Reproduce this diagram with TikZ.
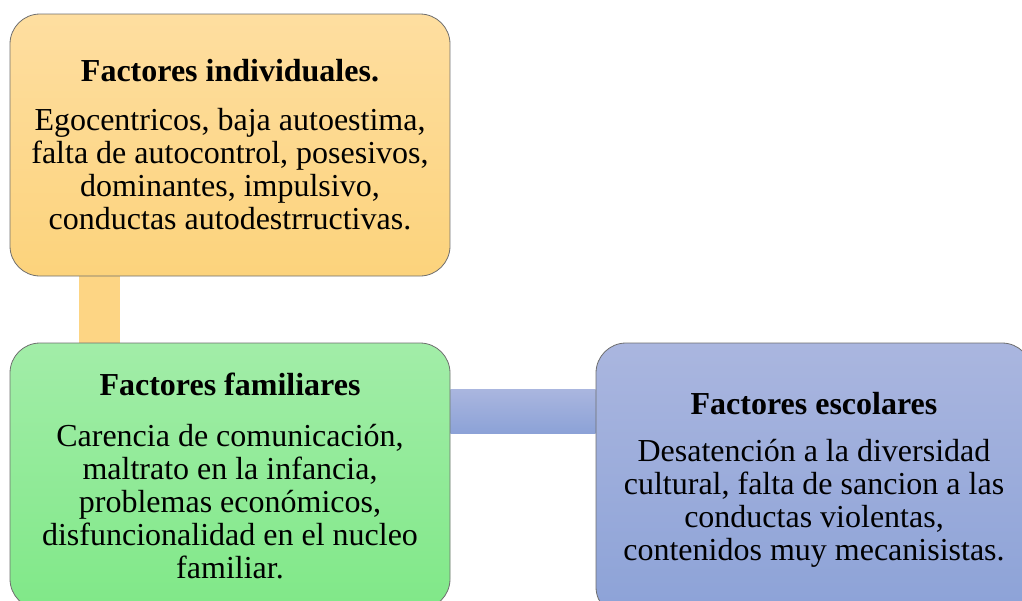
\documentclass[tikz,border=0pt]{standalone}
\usepackage{fontspec}
\setmainfont{Liberation Serif}
\usetikzlibrary{backgrounds}
\definecolor{indivtop}{RGB}{254,222,160}
\definecolor{indivbot}{RGB}{252,211,124}
\definecolor{indivbar}{RGB}{253,213,132}
\definecolor{familtop}{RGB}{162,237,168}
\definecolor{familbot}{RGB}{128,232,136}
\definecolor{escoltop}{RGB}{170,182,223}
\definecolor{escolbot}{RGB}{140,162,215}
\definecolor{edge}{RGB}{110,110,110}
\tikzset{
	factor/.style={draw=edge, line width=0.8pt, rounded corners=30pt, inner sep=0pt,
		minimum width=440pt, minimum height=262pt, align=center,
		font=\fontsize{32}{33}\selectfont},
}

\begin{document}
\begin{tikzpicture}[x=1pt,y=-1pt]
	% 1022 x 600, y grows downward
	\useasboundingbox (0,0) rectangle (1022,600);
	% boxes
	\node[factor, top color=indivtop, bottom color=indivbot] (indiv) at (230,145)
		{\textbf{Factores individuales.}\\[16pt]
		Egocentricos, baja autoestima,\\
		falta de autocontrol, posesivos,\\
		dominantes, impulsivo,\\
		conductas autodestrructivas.};
	\node[factor, top color=familtop, bottom color=familbot, minimum height=266pt] (famil) at (230,476)
		{\textbf{Factores familiares}\\[18pt]
		Carencia de comunicación,\\
		maltrato en la infancia,\\
		problemas económicos,\\
		disfuncionalidad en el nucleo\\
		familiar.};
	\node[factor, top color=escoltop, bottom color=escolbot, minimum width=436pt, minimum height=274pt] (escol) at (814,480)
		{\textbf{Factores escolares}\\[14pt]
		Desatención a la diversidad\\
		cultural, falta de sancion a las\\
		conductas violentas,\\
		contenidos muy mecanisistas.};
	% connectors
	\begin{scope}[on background layer]
		\fill[indivbar] ([xshift=-151pt]indiv.south) rectangle ([xshift=-110pt]famil.north);
		\shade[top color=escoltop, bottom color=escolbot] ([yshift=87pt]famil.east) rectangle ([yshift=47pt]escol.west);
	\end{scope}
\end{tikzpicture}
\end{document}
